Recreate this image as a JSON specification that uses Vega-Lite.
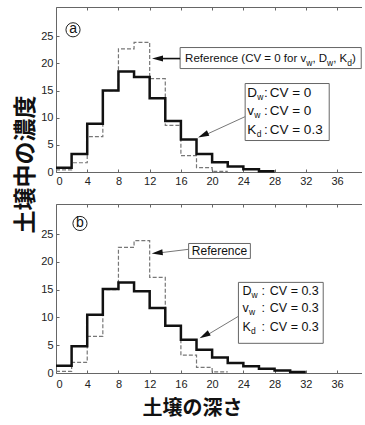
{
  "$schema": "https://vega.github.io/schema/vega-lite/v6.json",
  "padding": {"left": 14, "top": 6, "right": 0, "bottom": 0},
  "background": "white",
  "bounds": "flush",
  "spacing": 32,
  "config": {
    "view": {"stroke": null},
    "font": "Liberation Sans",
    "axis": {"grid": false, "labelFont": "Liberation Sans", "labelFontSize": 11, "labelColor": "#222", "domainColor": "#666", "tickColor": "#666", "tickSize": -3, "labelPadding": 6}
  },
  "datasets": {
    "a_ref": [
      {"d": 0, "c": 0.4}, {"d": 2, "c": 1.7}, {"d": 4, "c": 6.5}, {"d": 6, "c": 15.0}, {"d": 8, "c": 22.7},
      {"d": 10, "c": 23.9}, {"d": 12, "c": 17.2}, {"d": 14, "c": 8.6}, {"d": 16, "c": 3.0}, {"d": 18, "c": 0.8},
      {"d": 20, "c": 0.1}, {"d": 22, "c": 0.1}
    ],
    "a_kd": [
      {"d": 0, "c": 0.8}, {"d": 2, "c": 3.3}, {"d": 4, "c": 8.9}, {"d": 6, "c": 15.0}, {"d": 8, "c": 18.5},
      {"d": 10, "c": 17.5}, {"d": 12, "c": 13.6}, {"d": 14, "c": 9.4}, {"d": 16, "c": 6.0}, {"d": 18, "c": 3.3},
      {"d": 20, "c": 1.8}, {"d": 22, "c": 1.0}, {"d": 24, "c": 0.5}, {"d": 26, "c": 0.15}, {"d": 28, "c": 0.15}
    ],
    "b_ref": [
      {"d": 0, "c": 0.3}, {"d": 2, "c": 1.9}, {"d": 4, "c": 6.6}, {"d": 6, "c": 15.0}, {"d": 8, "c": 22.6},
      {"d": 10, "c": 23.8}, {"d": 12, "c": 17.2}, {"d": 14, "c": 8.5}, {"d": 16, "c": 3.2}, {"d": 18, "c": 1.0},
      {"d": 20, "c": 0.2}, {"d": 22, "c": 0.2}
    ],
    "b_all": [
      {"d": 0, "c": 1.3}, {"d": 2, "c": 4.8}, {"d": 4, "c": 10.5}, {"d": 6, "c": 15.1}, {"d": 8, "c": 16.3},
      {"d": 10, "c": 14.7}, {"d": 12, "c": 11.7}, {"d": 14, "c": 8.5}, {"d": 16, "c": 6.0}, {"d": 18, "c": 4.2},
      {"d": 20, "c": 2.8}, {"d": 22, "c": 1.8}, {"d": 24, "c": 1.2}, {"d": 26, "c": 0.75}, {"d": 28, "c": 0.45},
      {"d": 30, "c": 0.2}, {"d": 32, "c": 0.2}
    ]
  },
  "vconcat": [
    {
      "width": 306,
      "height": 165,
      "resolve": {"axis": {"x": "independent", "y": "independent"}},
      "layer": [
        {
          "data": {"name": "a_ref"},
          "mark": {"type": "line", "interpolate": "step-after", "stroke": "#777", "strokeWidth": 1.2, "strokeDash": [4, 2]},
          "encoding": {
            "x": {"field": "d", "type": "quantitative", "scale": {"domain": [0, 39.2], "nice": false},
                  "axis": {"orient": "top", "labels": false, "values": [0, 4, 8, 12, 16, 20, 24, 28, 32, 36], "title": null}},
            "y": {"field": "c", "type": "quantitative", "scale": {"domain": [0, 30.4], "nice": false},
                  "axis": {"values": [0, 5, 10, 15, 20, 25], "title": "土壌中の濃度", "titleY": 157, "titleFont": "Noto Sans CJK JP", "titleFontSize": 23, "titleFontWeight": "bold", "titleColor": "#111", "titlePadding": 3}}
          }
        },
        {
          "data": {"name": "a_kd"},
          "mark": {"type": "line", "interpolate": "step-after", "stroke": "#111", "strokeWidth": 2.5},
          "encoding": {
            "x": {"field": "d", "type": "quantitative", "axis": {"values": [0, 4, 8, 12, 16, 20, 24, 28, 32, 36], "title": null}},
            "y": {"field": "c", "type": "quantitative", "axis": null}
          }
        },
        {
          "data": {"values": [{"x": 15.9, "x2": 39.1, "y": 22.93, "y2": 19.06}, {"x": 24.23, "x2": 35.0, "y": 16.3, "y2": 5.8}]},
          "mark": {"type": "rect", "fill": "white", "stroke": "#666", "strokeWidth": 1},
          "encoding": {
            "x": {"field": "x", "type": "quantitative", "axis": null}, "x2": {"field": "x2"},
            "y": {"field": "y", "type": "quantitative", "axis": null}, "y2": {"field": "y2"}
          }
        },
        {
          "data": {"values": [{"x": 15.9, "x2": 13.0, "y": 20.9, "y2": 20.9}]},
          "mark": {"type": "rule", "stroke": "#111", "strokeWidth": 1.6},
          "encoding": {
            "x": {"field": "x", "type": "quantitative", "axis": null}, "x2": {"field": "x2"},
            "y": {"field": "y", "type": "quantitative", "axis": null}, "y2": {"field": "y2"}
          }
        },
        {
          "data": {"values": [{"x": 24.23, "x2": 19.0, "y": 10.2, "y2": 6.75}]},
          "mark": {"type": "rule", "stroke": "#777", "strokeWidth": 1},
          "encoding": {
            "x": {"field": "x", "type": "quantitative", "axis": null}, "x2": {"field": "x2"},
            "y": {"field": "y", "type": "quantitative", "axis": null}, "y2": {"field": "y2"}
          }
        },
        {
          "data": {"values": [{"x": 12.3, "y": 20.9}]},
          "mark": {"type": "point", "shape": "M0,0L2,-0.55L2,0.55Z", "filled": true, "color": "#111", "size": 121, "angle": 0, "opacity": 1},
          "encoding": {
            "x": {"field": "x", "type": "quantitative", "axis": null},
            "y": {"field": "y", "type": "quantitative", "axis": null}
          }
        },
        {
          "data": {"values": [{"x": 18.2, "y": 6.35}]},
          "mark": {"type": "point", "shape": "M0,0L2,-0.55L2,0.55Z", "filled": true, "color": "#111", "size": 121, "angle": 336, "opacity": 1},
          "encoding": {
            "x": {"field": "x", "type": "quantitative", "axis": null},
            "y": {"field": "y", "type": "quantitative", "axis": null}
          }
        },
        {
          "data": {"values": [
            {"x": 16.54, "y": 20.9, "t": "Reference (CV = 0 for v"},
            {"x": 32.85, "y": 20.9, "t": ", D"},
            {"x": 35.51, "y": 20.9, "t": ", K"},
            {"x": 37.92, "y": 20.9, "t": ")"}
          ]},
          "mark": {"type": "text", "align": "left", "baseline": "middle", "font": "Liberation Sans", "fontSize": 11.5, "color": "#111"},
          "encoding": {
            "x": {"field": "x", "type": "quantitative", "axis": null},
            "y": {"field": "y", "type": "quantitative", "axis": null},
            "text": {"field": "t"}
          }
        },
        {
          "data": {"values": [
            {"x": 24.5, "y": 14.5, "t": "D"}, {"x": 26.65, "y": 14.5, "t": ":"}, {"x": 27.38, "y": 14.5, "t": "CV = 0"},
            {"x": 24.5, "y": 11.27, "t": "v"}, {"x": 26.65, "y": 11.27, "t": ":"}, {"x": 27.38, "y": 11.27, "t": "CV = 0"},
            {"x": 24.5, "y": 7.77, "t": "K"}, {"x": 26.65, "y": 7.77, "t": ":"}, {"x": 27.38, "y": 7.77, "t": "CV = 0.3"}
          ]},
          "mark": {"type": "text", "align": "left", "baseline": "middle", "font": "Liberation Sans", "fontSize": 13.5, "color": "#111"},
          "encoding": {
            "x": {"field": "x", "type": "quantitative", "axis": null},
            "y": {"field": "y", "type": "quantitative", "axis": null},
            "text": {"field": "t"}
          }
        },
        {
          "data": {"values": [
            {"x": 32.06, "y": 20.9, "t": "w"}, {"x": 34.73, "y": 20.9, "t": "w"}, {"x": 37.32, "y": 20.9, "t": "d"},
            {"x": 25.78, "y": 14.5, "t": "w"}, {"x": 25.39, "y": 11.27, "t": "w"}, {"x": 25.71, "y": 7.77, "t": "d"}
          ]},
          "mark": {"type": "text", "align": "left", "baseline": "middle", "dy": 4, "font": "Liberation Sans", "fontSize": 8.5, "color": "#111"},
          "encoding": {
            "x": {"field": "x", "type": "quantitative", "axis": null},
            "y": {"field": "y", "type": "quantitative", "axis": null},
            "text": {"field": "t"}
          }
        },
        {
          "data": {"values": [{"x": 2.18, "y": 26.2, "t": "a"}]},
          "layer": [
            {"mark": {"type": "point", "shape": "circle", "size": 200, "filled": false, "stroke": "#222", "strokeWidth": 1, "opacity": 1},
             "encoding": {"x": {"field": "x", "type": "quantitative", "axis": null}, "y": {"field": "y", "type": "quantitative", "axis": null}}},
            {"mark": {"type": "text", "align": "center", "baseline": "middle", "fontSize": 14, "color": "#111", "dy": -1},
             "encoding": {"x": {"field": "x", "type": "quantitative", "axis": null}, "y": {"field": "y", "type": "quantitative", "axis": null}, "text": {"field": "t"}}}
          ]
        }
      ]
    },
    {
      "width": 306,
      "height": 169,
      "resolve": {"axis": {"x": "independent", "y": "independent"}},
      "layer": [
        {
          "data": {"name": "b_ref"},
          "mark": {"type": "line", "interpolate": "step-after", "stroke": "#777", "strokeWidth": 1.2, "strokeDash": [4, 2]},
          "encoding": {
            "x": {"field": "d", "type": "quantitative", "scale": {"domain": [0, 39.2], "nice": false},
                  "axis": {"orient": "top", "labels": false, "values": [0, 4, 8, 12, 16, 20, 24, 28, 32, 36], "title": null}},
            "y": {"field": "c", "type": "quantitative", "scale": {"domain": [0, 30.4], "nice": false},
                  "axis": {"values": [0, 5, 10, 15, 20, 25], "title": null}}
          }
        },
        {
          "data": {"name": "b_all"},
          "mark": {"type": "line", "interpolate": "step-after", "stroke": "#111", "strokeWidth": 2.5},
          "encoding": {
            "x": {"field": "d", "type": "quantitative",
                  "axis": {"values": [0, 4, 8, 12, 16, 20, 24, 28, 32, 36], "title": "土壌の深さ", "labelPadding": 8, "titleX": 136, "titleFont": "Noto Sans CJK JP", "titleFontSize": 20, "titleFontWeight": "bold", "titleColor": "#111", "titlePadding": 9}},
            "y": {"field": "c", "type": "quantitative", "axis": null}
          }
        },
        {
          "data": {"values": [{"x": 16.99, "x2": 24.9, "y": 23.3, "y2": 20.6}, {"x": 23.37, "x2": 34.23, "y": 16.3, "y2": 5.34}]},
          "mark": {"type": "rect", "fill": "white", "stroke": "#666", "strokeWidth": 1},
          "encoding": {
            "x": {"field": "x", "type": "quantitative", "axis": null}, "x2": {"field": "x2"},
            "y": {"field": "y", "type": "quantitative", "axis": null}, "y2": {"field": "y2"}
          }
        },
        {
          "data": {"values": [{"x": 16.99, "x2": 13.2, "y": 22.25, "y2": 21.6}, {"x": 23.37, "x2": 19.2, "y": 10.2, "y2": 6.7}]},
          "mark": {"type": "rule", "stroke": "#777", "strokeWidth": 1},
          "encoding": {
            "x": {"field": "x", "type": "quantitative", "axis": null}, "x2": {"field": "x2"},
            "y": {"field": "y", "type": "quantitative", "axis": null}, "y2": {"field": "y2"}
          }
        },
        {
          "data": {"values": [{"x": 12.26, "y": 21.5}]},
          "mark": {"type": "point", "shape": "M0,0L2,-0.55L2,0.55Z", "filled": true, "color": "#111", "size": 121, "angle": 354, "opacity": 1},
          "encoding": {
            "x": {"field": "x", "type": "quantitative", "axis": null},
            "y": {"field": "y", "type": "quantitative", "axis": null}
          }
        },
        {
          "data": {"values": [{"x": 18.4, "y": 6.24}]},
          "mark": {"type": "point", "shape": "M0,0L2,-0.55L2,0.55Z", "filled": true, "color": "#111", "size": 121, "angle": 331, "opacity": 1},
          "encoding": {
            "x": {"field": "x", "type": "quantitative", "axis": null},
            "y": {"field": "y", "type": "quantitative", "axis": null}
          }
        },
        {
          "data": {"values": [{"x": 20.95, "y": 22.0, "t": "Reference"}]},
          "mark": {"type": "text", "align": "center", "baseline": "middle", "font": "Liberation Sans", "fontSize": 12, "color": "#111"},
          "encoding": {
            "x": {"field": "x", "type": "quantitative", "axis": null},
            "y": {"field": "y", "type": "quantitative", "axis": null},
            "text": {"field": "t"}
          }
        },
        {
          "data": {"values": [
            {"x": 23.88, "y": 14.7, "t": "D"}, {"x": 26.31, "y": 14.7, "t": ":"}, {"x": 27.39, "y": 14.7, "t": "CV = 0.3"},
            {"x": 23.88, "y": 11.64, "t": "v"}, {"x": 26.31, "y": 11.64, "t": ":"}, {"x": 27.39, "y": 11.64, "t": "CV = 0.3"},
            {"x": 23.88, "y": 8.22, "t": "K"}, {"x": 26.31, "y": 8.22, "t": ":"}, {"x": 27.39, "y": 8.22, "t": "CV = 0.3"}
          ]},
          "mark": {"type": "text", "align": "left", "baseline": "middle", "font": "Liberation Sans", "fontSize": 12.5, "color": "#111"},
          "encoding": {
            "x": {"field": "x", "type": "quantitative", "axis": null},
            "y": {"field": "y", "type": "quantitative", "axis": null},
            "text": {"field": "t"}
          }
        },
        {
          "data": {"values": [
            {"x": 25.03, "y": 14.7, "t": "w"}, {"x": 24.71, "y": 11.64, "t": "w"}, {"x": 24.97, "y": 8.22, "t": "d"}
          ]},
          "mark": {"type": "text", "align": "left", "baseline": "middle", "dy": 4, "font": "Liberation Sans", "fontSize": 8.5, "color": "#111"},
          "encoding": {
            "x": {"field": "x", "type": "quantitative", "axis": null},
            "y": {"field": "y", "type": "quantitative", "axis": null},
            "text": {"field": "t"}
          }
        },
        {
          "data": {"values": [{"x": 3.07, "y": 26.9, "t": "b"}]},
          "layer": [
            {"mark": {"type": "point", "shape": "circle", "size": 200, "filled": false, "stroke": "#222", "strokeWidth": 1, "opacity": 1},
             "encoding": {"x": {"field": "x", "type": "quantitative", "axis": null}, "y": {"field": "y", "type": "quantitative", "axis": null}}},
            {"mark": {"type": "text", "align": "center", "baseline": "middle", "fontSize": 14, "color": "#111", "dy": 0},
             "encoding": {"x": {"field": "x", "type": "quantitative", "axis": null}, "y": {"field": "y", "type": "quantitative", "axis": null}, "text": {"field": "t"}}}
          ]
        }
      ]
    }
  ]
}
